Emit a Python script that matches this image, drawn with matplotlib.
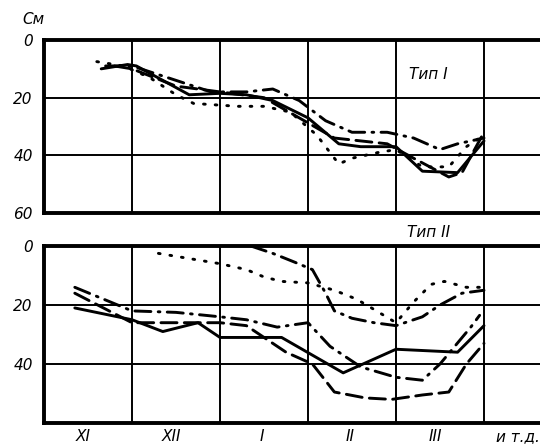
# Snow depth curves, type I and type II (recreated)
import matplotlib
matplotlib.use('Agg')
import matplotlib.pyplot as plt

# months along x: 0 = start of XI, grid line every month
month_labels = ['XI', 'XII', 'I', 'II', 'III']
month_pos = [0.45, 1.45, 2.48, 3.48, 4.45]
y_ticks_top = [0, 20, 40, 60]
y_ticks_bot = [0, 20, 40]

# --- Type I ---
t1_solid_x = [0.65, 0.95, 1.05, 1.65, 2.0, 2.3, 2.6, 3.0, 3.35, 3.6, 3.9, 4.0, 4.3, 4.7, 5.0]
t1_solid_y = [10, 8.5, 9, 19, 18.5, 19, 21, 27, 36, 37, 37, 37, 45.5, 46, 35]
t1_dash_x = [0.8, 1.0, 1.5, 2.0, 2.5, 2.9, 3.3, 3.6, 3.9, 4.2, 4.6, 4.75, 5.0]
t1_dash_y = [9, 10, 16, 18, 20, 27, 34, 35, 36, 41, 47.5, 46, 32]
t1_dd_x = [0.7, 1.0, 1.5, 1.9, 2.3, 2.6, 2.9, 3.2, 3.5, 3.9, 4.2, 4.5, 4.7, 5.0]
t1_dd_y = [9, 9, 14, 18, 18, 17, 21, 28, 32, 32, 34, 38, 36, 34]
t1_dot_x = [0.6, 0.9, 1.2, 1.5, 1.7, 2.2, 2.5, 2.8, 3.1, 3.35, 3.5, 3.8, 4.0, 4.3, 4.6, 4.8, 5.0]
t1_dot_y = [7.5, 9, 13, 19, 22, 23, 23, 25, 33, 43, 41, 39, 38, 44, 44, 37, 33]

# --- Type II ---
t2_solid_x = [0.35, 1.0, 1.35, 1.75, 2.0, 2.7, 3.4, 4.0, 4.7, 5.0]
t2_solid_y = [21, 25, 29, 26, 31, 31, 43, 35, 36, 27]
t2_dash_x = [0.35, 1.0, 1.5, 2.0, 2.3, 2.5, 2.75, 3.05, 3.3, 3.65, 3.95, 4.3, 4.6, 4.8, 5.0]
t2_dash_y = [16, 26, 26, 26, 27, 31, 36, 40, 49.5, 51.5, 52, 50.5, 49.5, 40, 33]
t2_dd_x = [0.35, 1.0, 1.5, 2.0, 2.3, 2.65, 3.0, 3.25, 3.6, 4.0, 4.3, 4.5, 4.85, 4.95]
t2_dd_y = [14, 22, 22.5, 24, 25, 27.5, 26, 34, 41, 44.5, 45.5, 40, 27.5, 23.5]
t2_dd2_x = [2.35, 2.6, 2.85, 3.05, 3.2, 3.3, 3.5, 3.75, 4.0, 4.3, 4.5, 4.75, 5.0]
t2_dd2_y = [0, 2.5, 5.5, 8, 16, 22, 24.5, 26, 27, 24, 20, 16, 15]
t2_dot_x = [1.3, 2.0, 2.3, 2.5, 2.7, 3.0, 3.3, 3.55, 3.75, 4.0, 4.2, 4.4, 4.55, 4.8, 5.0]
t2_dot_y = [2.5, 6, 8, 10.5, 12, 12.5, 15, 18, 21.5, 26, 19, 13, 12, 14, 14]

FONT = dict(family='DejaVu Sans', style='italic', size=11)
SOLID = '-'
DASH = (0, (5.5, 2.5))
DASHDOT = (0, (5.5, 2.5, 0.6, 2.5))
DOT = (0, (0.6, 3.4))

fig = plt.figure(figsize=(5.4, 4.48), dpi=100)
ax1 = fig.add_axes([44 / 540, 1 - 213 / 448, 1 - 44 / 540, 173 / 448])
ax2 = fig.add_axes([44 / 540, 1 - 423 / 448, 1 - 44 / 540, 177 / 448])


def setup(ax, yticks):
    ax.set_xlim(0, 496 / 88)
    ax.set_ylim(60, 0)
    ax.set_xticks([1, 2, 3, 4, 5])
    ax.set_xticklabels([])
    ax.set_yticks(yticks)
    ax.set_yticklabels([str(v) for v in yticks], fontdict=FONT)
    ax.tick_params(length=0, pad=8)
    ax.grid(True, color='black', linewidth=1.4)
    ax.set_axisbelow(True)
    ax.spines['right'].set_visible(False)
    for s in ['top', 'bottom', 'left']:
        ax.spines[s].set_linewidth(2.8)


setup(ax1, y_ticks_top)
setup(ax2, y_ticks_bot)

kw = dict(color='black', linewidth=2.1, dash_capstyle='round', solid_capstyle='round')
ax1.plot(t1_solid_x, t1_solid_y, linestyle=SOLID, **kw)
ax1.plot(t1_dash_x, t1_dash_y, linestyle=DASH, **kw)
ax1.plot(t1_dd_x, t1_dd_y, linestyle=DASHDOT, **kw)
ax1.plot(t1_dot_x, t1_dot_y, linestyle=DOT, **kw)

ax2.plot(t2_solid_x, t2_solid_y, linestyle=SOLID, **kw)
ax2.plot(t2_dash_x, t2_dash_y, linestyle=DASH, **kw)
ax2.plot(t2_dd_x, t2_dd_y, linestyle=DASHDOT, **kw)
ax2.plot(t2_dd2_x, t2_dd2_y, linestyle=DASHDOT, **kw)
ax2.plot(t2_dot_x, t2_dot_y, linestyle=DOT, **kw)

# labels
ax1.text(4.37, 12, 'Тип I', fontdict=FONT, ha='center', va='center')
ax2.text(4.37, -4.5, 'Тип II', fontdict=FONT, ha='center', va='center', clip_on=False)
fig.text(33 / 540, 1 - 20 / 448, 'См', fontdict=FONT, ha='center', va='center')

for lab, x in zip(month_labels, month_pos):
    ax2.text(x, 64.5, lab, fontdict=FONT, ha='center', va='center', clip_on=False)
ax2.text(5.38, 64.5, 'и т.д.', fontdict=FONT, ha='center', va='center', clip_on=False)

fig.savefig('out.png', dpi=100)
